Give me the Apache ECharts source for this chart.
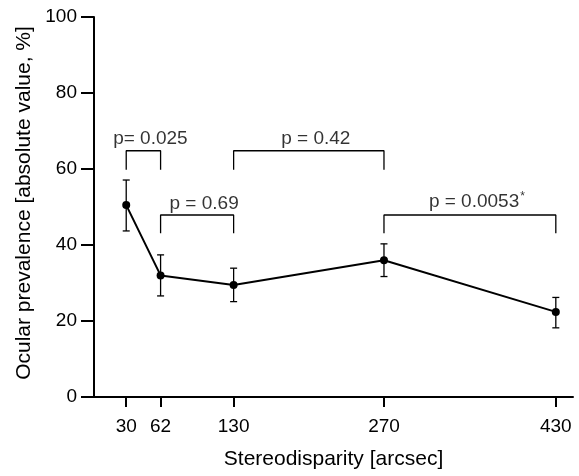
<!DOCTYPE html>
<html>
<head>
<meta charset="utf-8">
<script src="https://cdn.jsdelivr.net/npm/echarts@6/dist/echarts.min.js"></script>
<style>html,body{margin:0;padding:0;background:#fff}#c{width:579px;height:476px}</style>
</head>
<body>
<div id="c"></div>
<script>
const disparity = [30, 62, 130, 270, 430];
const prevalence = [50.5, 32.0, 29.5, 36.0, 22.4];
const errLow = [43.7, 26.6, 25.1, 31.7, 18.2];
const errHigh = [57.1, 37.4, 33.9, 40.3, 26.2];
const xTickValues = [30, 62, 130, 270, 430];
const bracketFrom = [30, 130, 62, 270];
const bracketTo = [62, 270, 130, 430];
const bracketTop = [64.8, 64.8, 47.9, 47.9];
const bracketLeg = [59.8, 59.8, 43.1, 43.1];
const pLabels = ['p= 0.025', 'p = 0.42', 'p = 0.69', 'p = 0.0053'];
const pStar = ['', '', '', '*'];

const FONT = 'Liberation Sans, Arial, Helvetica, sans-serif';
const chart = echarts.init(document.getElementById('c'), null, {renderer: 'canvas'});

const series = [];
// main line
series.push({
  type: 'line',
  data: disparity.map((x, i) => [x, prevalence[i]]),
  symbol: 'circle', symbolSize: 8,
  itemStyle: {color: '#000'},
  lineStyle: {color: '#000', width: 2},
  z: 5, animation: false
});
// error bars
series.push({
  type: 'custom',
  data: disparity.map((x, i) => [x, errLow[i], errHigh[i]]),
  renderItem: function (params, api) {
    const x = api.value(0);
    const lo = api.coord([x, api.value(1)]);
    const hi = api.coord([x, api.value(2)]);
    const w = 3.5;
    const st = {stroke: '#000', lineWidth: 1.3};
    return {type: 'group', children: [
      {type: 'line', shape: {x1: lo[0], y1: lo[1], x2: hi[0], y2: hi[1]}, style: st},
      {type: 'line', shape: {x1: lo[0]-w, y1: lo[1], x2: lo[0]+w, y2: lo[1]}, style: st},
      {type: 'line', shape: {x1: hi[0]-w, y1: hi[1], x2: hi[0]+w, y2: hi[1]}, style: st}
    ]};
  },
  z: 4, animation: false
});
// brackets
bracketFrom.forEach((x1, i) => {
  const x2 = bracketTo[i];
  series.push({
    type: 'line',
    data: [[x1, bracketLeg[i]], [x1, bracketTop[i]], [x2, bracketTop[i]], [x2, bracketLeg[i]]],
    symbol: 'none',
    lineStyle: {color: '#000', width: 1.3},
    animation: false, silent: true
  });
});
// p labels
series.push({
  type: 'scatter',
  symbolSize: 0,
  data: bracketFrom.map((x1, i) => ({value: [(x1 + bracketTo[i]) / 2, bracketTop[i]], name: i})),
  label: {
    show: true, position: 'top', distance: 2, offset: [7, 0],
    formatter: p => '{a|' + pLabels[p.name] + '}' + (pStar[p.name] ? '{s|' + pStar[p.name] + '}' : ''),
    rich: {
      a: {fontSize: 19, fontFamily: FONT, color: '#000'},
      s: {fontSize: 12, fontFamily: FONT, color: '#000', padding: [0, 0, 10, 1]}
    }
  },
  animation: false, silent: true
});

chart.setOption({
  animation: false,
  grid: {left: 94, right: 6, top: 17, bottom: 79},
  xAxis: {
    type: 'value', min: 0, max: 446,
    name: 'Stereodisparity [arcsec]', nameLocation: 'middle', nameGap: 52,
    nameTextStyle: {fontSize: 21, fontFamily: FONT, color: '#000'},
    axisLine: {show: true, onZero: false, lineStyle: {color: '#000', width: 2}},
    axisTick: {show: true, customValues: xTickValues, length: 10, lineStyle: {color: '#000', width: 2}},
    axisLabel: {customValues: xTickValues, fontSize: 19, fontFamily: FONT, color: '#000', margin: 20},
    splitLine: {show: false}
  },
  yAxis: {
    type: 'value', min: 0, max: 100, interval: 20,
    name: 'Ocular prevalence [absolute value, %]', nameLocation: 'middle', nameGap: 57,
    nameTextStyle: {fontSize: 21, fontFamily: FONT, color: '#000', padding: [0, 0, 0, 8]},
    axisLine: {show: true, lineStyle: {color: '#000', width: 2}},
    axisTick: {show: true, length: 13, lineStyle: {color: '#000', width: 2}},
    axisLabel: {fontSize: 19, fontFamily: FONT, color: '#000', margin: 17},
    splitLine: {show: false}
  },
  series: series
});
</script>
</body>
</html>
